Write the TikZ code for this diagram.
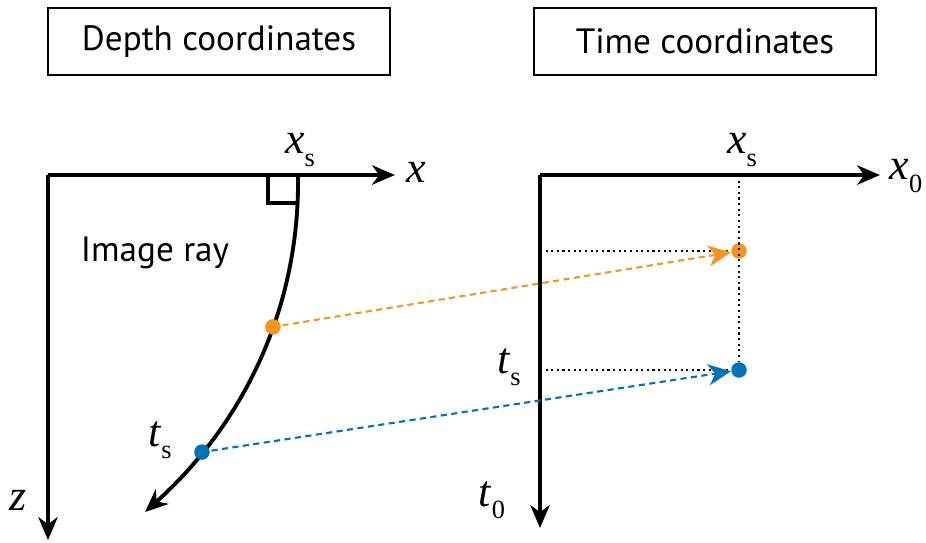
\documentclass[tikz,border=0pt]{standalone}
\usepackage{fontspec}
\setmainfont{Liberation Serif}
\newfontfamily\boxfont{PT Sans}
\usetikzlibrary{arrows.meta,positioning,calc}
\definecolor{rayorange}{HTML}{F7941D}
\definecolor{rayblue}{HTML}{0072BC}
\newcommand{\varlab}[2]{\textit{#1}\raisebox{-0.6ex}{\fontsize{15}{15}\selectfont #2}}

\begin{document}
\begin{tikzpicture}[x=0.02cm,y=-0.02cm,
  title/.style={rectangle, draw=black, line width=1.1pt, minimum width=6.84cm, minimum height=1.34cm, font=\boxfont\fontsize{20}{24}\selectfont},
  axis/.style={line width=2.3pt, -{Stealth[length=13pt,width=11pt,inset=4pt]}},
  varname/.style={font=\fontsize{25}{27}\selectfont, inner sep=0pt},
  dot/.style={circle, fill=#1, minimum size=0.31cm, inner sep=0pt},
  proj/.style={dotted, line width=1.2pt},
  map/.style={dash pattern=on 3.5pt off 2.5pt, line width=1.2pt, draw=#1, -{Stealth[length=13pt,width=12pt,inset=4pt]}}
]
\useasboundingbox (0,0) rectangle (926,542);

% titles
\node[title] (depth) at (219,41.5) {Depth coordinates};
\node[title] (time) at (705,41.5) {Time coordinates};

% depth domain
\coordinate (dorig) at (48,175);
\coordinate (dxend) at (395,175);
\coordinate (dzend) at (48,540);
\coordinate (src) at (298,175);
\coordinate (rayend) at (145,512);
\draw[axis] (dorig) -- (dxend);
\draw[axis] (dorig) -- (dzend);
\draw[line width=1.8pt] (268,175) -- (268,203) -- (298,203);
\draw[axis, line width=2.2pt] (src) .. controls (300,310) and (242,425) .. (rayend)
  node[pos=0.4, dot=rayorange] (dor) {}
  node[pos=0.785, dot=rayblue] (dbl) {};
\node[varname] (xlab) at (416,172) {\textit{x}};
\node[varname] (zlab) at (18,500) {\textit{z}};
\node[varname] (xsd) at (300,150) {\varlab{x}{s}};
\node[varname] (tsd) at (160,440) {\varlab{t}{s}};
\node[font=\boxfont\fontsize{20}{24}\selectfont] (ray) at (155,253) {Image ray};

% time domain
\coordinate (torig) at (540,175);
\coordinate (txend) at (880,175);
\coordinate (ttend) at (540,528);
\coordinate (xstop) at (739,175);
\draw[axis] (torig) -- (txend);
\draw[axis] (torig) -- (ttend);
\node[dot=rayorange] (tor) at (739,251) {};
\node[dot=rayblue] (tbl) at (739,370) {};
\draw[proj] (xstop) -- (tbl);
\draw[proj] (torig |- tor) -- (tor);
\draw[proj] (torig |- tbl) -- (tbl);
\node[varname] (x0lab) at (906,176) {\varlab{x}{0}};
\node[varname] (xst) at (742,150) {\varlab{x}{s}};
\node[varname] (tst) at (509,367) {\varlab{t}{s}};
\node[varname] (t0lab) at (492,500) {\varlab{t}{0}};

% mapping
\draw[map=rayorange] (dor) -- (tor);
\draw[map=rayblue] (dbl) -- (tbl);
\end{tikzpicture}
\end{document}
